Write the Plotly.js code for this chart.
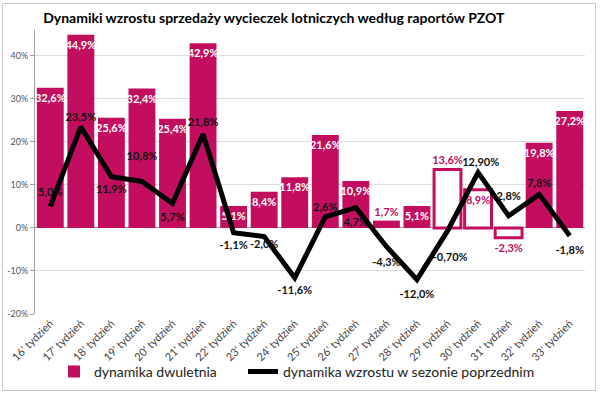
<!DOCTYPE html>
<html>
<head>
<meta charset="utf-8">
<script src="https://cdn.plot.ly/plotly-3.0.1.min.js"></script>
<style>
  html, body { margin: 0; padding: 0; background: #fff; }
  #wrap { position: relative; width: 600px; height: 393px; }
  #chart { width: 600px; height: 393px; }
  #frame { position: absolute; left: 2px; top: 3px; width: 592px; height: 386px;
           border: 1px solid #c8c8c8; pointer-events: none; }
</style>
</head>
<body>
<div id="wrap"><div id="chart"></div><div id="frame"></div></div>
<script>
const categories = ["16' tydzień","17' tydzień","18' tydzień","19' tydzień","20' tydzień","21' tydzień",
  "22' tydzień","23' tydzień","24' tydzień","25' tydzień","26' tydzień","27' tydzień","28' tydzień",
  "29' tydzień","30' tydzień","31' tydzień","32' tydzień","33' tydzień"];
const dwuletnia = [32.6, 44.9, 25.6, 32.4, 25.4, 42.9, 5.1, 8.4, 11.8, 21.6, 10.9, 1.7, 5.1, 13.6, 8.9, -2.3, 19.8, 27.2];
const dwuletniaLabels = ["32,6%","44,9%","25,6%","32,4%","25,4%","42,9%","5,1%","8,4%","11,8%","21,6%","10,9%","1,7%","5,1%","13,6%","8,9%","-2,3%","19,8%","27,2%"];
const hollow = [false,false,false,false,false,false,false,false,false,false,false,false,false,true,true,true,false,false];
const poprzedni = [5.0, 23.5, 11.9, 10.8, 5.7, 21.8, -1.1, -2.0, -11.6, 2.6, 4.7, -4.3, -12.0, -0.70, 12.90, 2.8, 7.8, -1.8];
const poprzedniLabels = ["5,0%","23,5%","11,9%","10,8%","5,7%","21,8%","-1,1%","-2,0%","-11,6%","2,6%","4,7%","-4,3%","-12,0%","\u00a0\u00a0-0,70%","\u00a0\u00a012,90%","2,8%","7,8%","-1,8%"];
const seriesNames = ["dynamika dwuletnia", "dynamika wzrostu w sezonie poprzednim"];
const yTicks = [-20, -10, 0, 10, 20, 30, 40];
const yTickLabels = ["-20%","-10%","0%","10%","20%","30%","40%"];

const MAG = "#C30E5F";
const FONT = "Lato, 'Open Sans', sans-serif";
const lineTextPos = ["top center","top center","bottom center","top center","bottom center","top center",
  "bottom center","bottom center","bottom center","top center","bottom center","bottom center","bottom center",
  "bottom center","top center","top center","top center","bottom center"];
// invisible marker sizes: only used to push each label away from its point
const labelGap = [11, 4, 11, 28, 14, 7, 11, 4, 11, 4, 14, 16, 14, 33, 5, 20, 6, 14];

const barTextPos = dwuletnia.map((v, i) => (hollow[i] && i !== 14) || v < 3 ? "outside" : "inside");
const barTextColor = dwuletnia.map((v, i) => (hollow[i] || v < 3) ? MAG : "#ffffff");

const barTrace = {
  type: "bar", x: categories, y: dwuletnia, name: seriesNames[0],
  text: dwuletniaLabels, textposition: barTextPos, insidetextanchor: "end",
  textangle: 0, constraintext: "none", cliponaxis: false,
  textfont: { family: FONT, size: 11, color: barTextColor, weight: "bold" },
  marker: {
    color: hollow.map(h => h ? "#ffffff" : MAG),
    line: { color: MAG, width: hollow.map(h => h ? 3 : 0) }
  },
  legend: "legend",
  hoverinfo: "skip"
};
const lineTrace = {
  type: "scatter", mode: "lines+markers+text", x: categories, y: poprzedni, name: seriesNames[1],
  text: poprzedniLabels, textposition: lineTextPos, cliponaxis: false,
  textfont: { family: FONT, size: 11, color: "#111111", weight: "bold" },
  line: { color: "#000000", width: 5 },
  marker: { size: labelGap, color: "rgba(0,0,0,0)", line: { width: 0 } },
  legend: "legend2",
  hoverinfo: "skip"
};

const legendCommon = { orientation: "h", xref: "container", yref: "container", xanchor: "left",
  y: 0.054, yanchor: "middle", font: { family: FONT, size: 14, color: "#222" },
  bgcolor: "rgba(0,0,0,0)" };

const layout = {
  width: 600, height: 393,
  margin: { l: 35, r: 15, t: 30, b: 79 },
  paper_bgcolor: "#ffffff", plot_bgcolor: "#ffffff",
  title: { text: "Dynamiki wzrostu sprzedaży wycieczek lotniczych według raportów PZOT",
           font: { family: FONT, size: 14, color: "#000", weight: "bold" },
           x: 0.072, xref: "container", xanchor: "left", y: 0.953, yref: "container", yanchor: "middle" },
  bargap: 0.12,
  showlegend: true,
  legend: Object.assign({}, legendCommon, { x: 0.09 }),
  legend2: Object.assign({}, legendCommon, { x: 0.405 }),
  xaxis: { type: "category", range: [-0.5, categories.length - 0.5], autorange: false,
           tickangle: -45, showgrid: false, zeroline: false,
           tickfont: { family: FONT, size: 11, color: "#444" },
           ticks: "", showline: false, automargin: false },
  yaxis: { range: [-20, 46], autorange: false, tickvals: yTicks, ticktext: yTickLabels,
           tickfont: { family: FONT, size: 9, color: "#555" },
           showgrid: true, gridcolor: "#dcdcdc", gridwidth: 1,
           zeroline: true, zerolinecolor: "#a0a0a0", zerolinewidth: 1,
           showline: true, linecolor: "#a0a0a0", linewidth: 1,
           ticks: "outside", ticklen: 4, tickcolor: "#a0a0a0", automargin: false }
};

Plotly.newPlot("chart", [barTrace, lineTrace], layout, { displayModeBar: false, staticPlot: true });
</script>
</body>
</html>
